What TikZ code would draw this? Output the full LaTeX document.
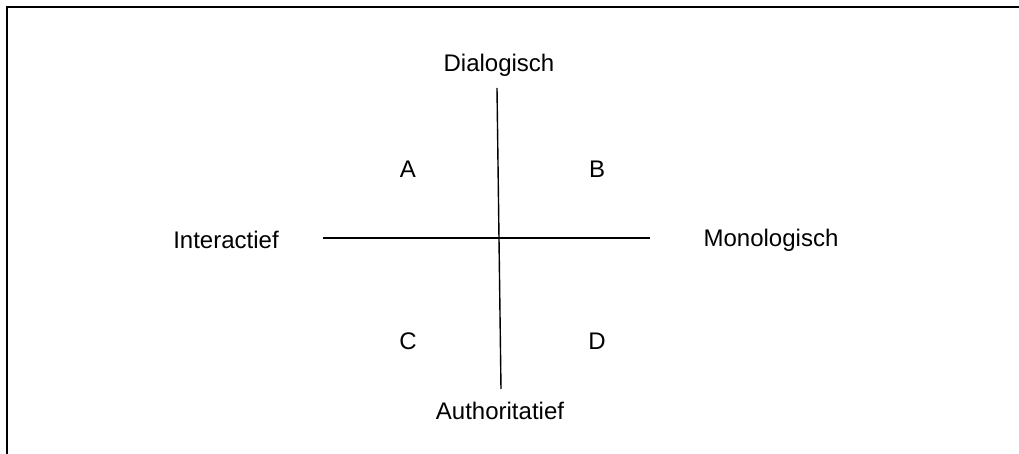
\documentclass[tikz,border=0pt]{standalone}
\usepackage{fontspec}
\setmainfont{Liberation Sans}
\begin{document}
\begin{tikzpicture}[x=0.5pt,y=-0.5pt,
  lbl/.style={inner sep=0pt,font=\fontsize{12}{14}\selectfont},
  axis/.style={line width=0.7pt},
  frame/.style={line width=1.1pt}]
\useasboundingbox (0,0) rectangle (1019,454);
\coordinate (fl) at (7,454);
\coordinate (ftl) at (7,7);
\coordinate (fr) at (1019,7);
\draw[frame] (fl) -- (ftl) -- (fr);
\node[lbl] (dia) at (499,65) {Dialogisch};
\node[lbl] (aut) at (500,411) {Authoritatief};
\node[lbl] (int) at (226,240) {Interactief};
\node[lbl] (mon) at (771,240) {Monologisch};
\node[lbl] (a) at (408,169) {A};
\node[lbl] (b) at (597,169) {B};
\node[lbl] (c) at (408,341) {C};
\node[lbl] (d) at (597,341) {D};
\coordinate (vt) at (497,88);
\coordinate (vb) at (501,389);
\coordinate (hl) at (323,238);
\coordinate (hr) at (650,238);
\draw[axis] (vt) -- (vb);
\draw[axis] (hl) -- (hr);
\end{tikzpicture}
\end{document}
